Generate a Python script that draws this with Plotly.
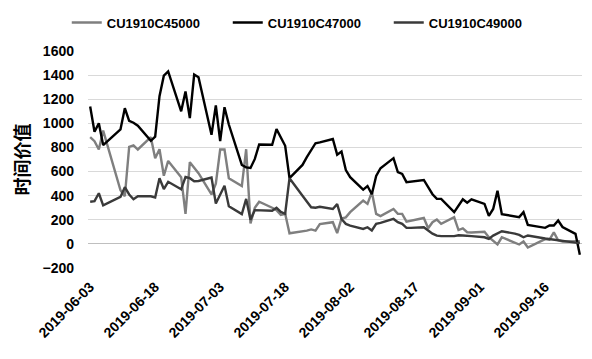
import pandas as pd
import plotly.graph_objects as go

dates = [
    "2019-06-03", "2019-06-04", "2019-06-05", "2019-06-06", "2019-06-10", "2019-06-11", "2019-06-12",
    "2019-06-13", "2019-06-14", "2019-06-17", "2019-06-18", "2019-06-19", "2019-06-20", "2019-06-21",
    "2019-06-24", "2019-06-25", "2019-06-26", "2019-06-27", "2019-06-28",
    "2019-07-01", "2019-07-02", "2019-07-03", "2019-07-04", "2019-07-05", "2019-07-08", "2019-07-09",
    "2019-07-10", "2019-07-11", "2019-07-12", "2019-07-15", "2019-07-16", "2019-07-17", "2019-07-18",
    "2019-07-19", "2019-07-22", "2019-07-23", "2019-07-24", "2019-07-25", "2019-07-26", "2019-07-29",
    "2019-07-30", "2019-07-31",
    "2019-08-01", "2019-08-02", "2019-08-05", "2019-08-06", "2019-08-07", "2019-08-08", "2019-08-09",
    "2019-08-12", "2019-08-13", "2019-08-14", "2019-08-15", "2019-08-16", "2019-08-19", "2019-08-20",
    "2019-08-21", "2019-08-22", "2019-08-23", "2019-08-26", "2019-08-27", "2019-08-28", "2019-08-29",
    "2019-08-30",
    "2019-09-02", "2019-09-03", "2019-09-04", "2019-09-05", "2019-09-06", "2019-09-09", "2019-09-10",
    "2019-09-11", "2019-09-12", "2019-09-16", "2019-09-17", "2019-09-18", "2019-09-19", "2019-09-20",
    "2019-09-23", "2019-09-24",
]

c45000 = [
    885, 852, 783, 940, 445, 395, 805, 818, 783, 885, 711, 785, 565, 688,
    553, 249, 678, 628, 586,
    410, 500, 783, 783, 545, 480, 785, 170, 300, 350, 300, 280, 240, 250,
    88, 100, 110, 120, 110, 165, 180, 90, 210,
    220, 263, 360, 332, 430, 249, 230, 290, 249, 249, 185, 194, 215, 130,
    180, 202, 166, 221, 115, 128, 97, 95,
    100, 56, 25, -5, 55, 5, -5, 20, -30, 40, 35, 95, 30, 20, 25, 22,
]

c47000 = [
    1140, 930, 1000, 820, 950, 1125, 1020, 1005, 980, 855, 890, 1225, 1395, 1430,
    1100, 1265, 1043, 1405, 1383,
    905, 1148, 852, 1134, 990, 655, 635, 630, 705, 825, 822, 952, 883, 814,
    545, 655, 720, 775, 835, 842, 870, 740, 766,
    612, 553, 450, 480, 412, 563, 628, 711, 595, 581, 512, 515, 530, 470,
    412, 373, 373, 263, 318, 370, 342, 370,
    332, 232, 290, 440, 247, 230, 222, 263, 158, 133, 152, 152, 194, 140, 83, -90,
]

c49000 = [
    350, 355, 420, 320, 390, 470, 410, 370, 395, 395, 385, 545, 455, 515,
    453, 555, 545, 520, 522,
    550, 335, 410, 482, 313, 247, 373, 200, 280, 280, 275, 300, 265, 250,
    545, 400, 350, 304, 300, 308, 290, 330, 207,
    166, 152, 124, 138, 111, 166, 174, 207, 180, 166, 133, 133, 138, 111,
    85, 69, 64, 64, 72, 69, 69, 64,
    55, 41, 69, 85, 105, 85, 75, 55, 70, 45, 40, 30, 25, 20, 10, 7,
]

series_names = ["CU1910C45000", "CU1910C47000", "CU1910C49000"]
series_colors = ["#7f7f7f", "#000000", "#3a3a3a"]

tick_dates = ["2019-06-03", "2019-06-18", "2019-07-03", "2019-07-18",
              "2019-08-02", "2019-08-17", "2019-09-01", "2019-09-16"]

y_min, y_max, y_step = -200, 1600, 200

x = pd.to_datetime(dates)
x_start = x[0] - pd.Timedelta(hours=12)
x_end = x[-1] + pd.Timedelta(hours=12)

fig = go.Figure()
for name, vals, col in zip(series_names, [c45000, c47000, c49000], series_colors):
    fig.add_trace(go.Scatter(x=x, y=vals, mode="lines", name=name,
                             line=dict(color=col, width=2.4)))

font_main = dict(family="Arial, Liberation Sans, sans-serif", size=14, color="#000000", weight="bold")

# the page body adds an 8px offset; the figure is sized to fill the rest of the window
fig.update_layout(
    width=584, height=351,
    margin=dict(l=80, r=10, t=43, b=91, autoexpand=False),
    paper_bgcolor="white", plot_bgcolor="white",
    font=font_main,
    showlegend=True,
    legend=dict(orientation="h", xref="paper", yref="paper",
                x=-0.043, y=1.2, xanchor="left", yanchor="top",
                entrywidth=116, font=dict(size=13, weight="bold"),
                bgcolor="rgba(0,0,0,0)"),
    xaxis=dict(type="date", range=[x_start, x_end], automargin=False,
               tickvals=pd.to_datetime(tick_dates), ticktext=tick_dates,
               tickangle=-45, showgrid=False, zeroline=False, showline=False,
               ticks="", ticklabelstandoff=7, tickfont=font_main),
    xaxis2=dict(type="date", overlaying="x", anchor="free", automargin=False,
                position=(0 - y_min) / (y_max - y_min), side="bottom",
                range=[x_start, x_end], tickvals=pd.to_datetime(tick_dates),
                showticklabels=False, ticks="outside", ticklen=4, tickcolor="#bfbfbf",
                showgrid=False, zeroline=False, showline=False),
    yaxis=dict(range=[y_min, y_max], dtick=y_step, tick0=0, automargin=False,
               showgrid=True, gridcolor="#d9d9d9", gridwidth=1,
               zeroline=True, zerolinecolor="#bfbfbf", zerolinewidth=1,
               showline=False, ticks="", ticklabelstandoff=13, tickfont=font_main,
               title=dict(text="时间价值", standoff=15,
                          font=dict(family="Noto Sans CJK SC", size=18, weight="bold", color="#000000"))),
)

fig.write_html("out.html")
